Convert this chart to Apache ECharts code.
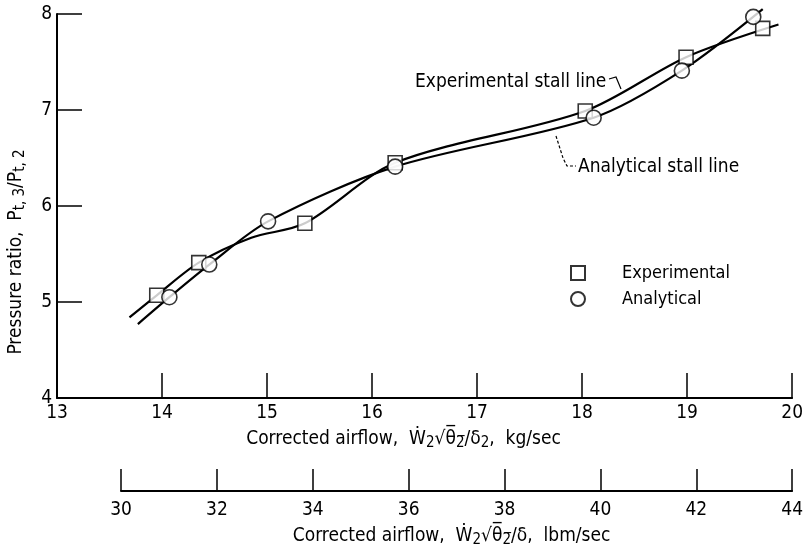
<!DOCTYPE html>
<html>
<head>
<meta charset="utf-8">
<script src="https://cdn.jsdelivr.net/npm/echarts@6/dist/echarts.min.js"></script>
<style>
  html, body { margin: 0; padding: 0; background: #fff; }
  #main { width: 806px; height: 553px; }
</style>
</head>
<body>
<div id="main"></div>
<script type="text/javascript">
	// kg/sec axis and pressure ratio axis
	var kgTicks = [13, 14, 15, 16, 17, 18, 19, 20];
	var lbmTicks = [30, 32, 34, 36, 38, 40, 42, 44];
	var ratioTicks = [4, 5, 6, 7, 8];

	// points
	var expX = [13.95, 14.35, 15.36, 16.22, 18.03, 18.99, 19.72];
	var expY = [5.07, 5.41, 5.82, 6.45, 6.99, 7.55, 7.85];
	var anaX = [14.07, 14.45, 15.01, 16.22, 18.11, 18.95, 19.63];
	var anaY = [5.05, 5.39, 5.84, 6.41, 6.92, 7.41, 7.97];

	// stall lines (faired curves, with their drawn end points)
	var expLineX = [13.69, 13.95, 14.35, 14.85, 15.36, 16.22, 18.03, 18.99, 19.87];
	var expLineY = [4.84, 5.07, 5.41, 5.67, 5.82, 6.45, 6.99, 7.55, 7.89];
	var anaLineX = [13.77, 14.07, 14.45, 15.01, 16.22, 18.11, 18.95, 19.72];
	var anaLineY = [4.77, 5.05, 5.39, 5.84, 6.41, 6.92, 7.41, 8.05];

	var FONT = "'DejaVu Sans Condensed', 'Liberation Sans Narrow', 'Arial Narrow', sans-serif";

	function pairs(xs, ys) {
		var out = [];
		for (var i = 0; i < xs.length; i++) {
			out.push([xs[i], ys[i]]);
		}
		return out;
	}

	var nameRich = {
		n: { fontSize: 19, fontFamily: FONT, color: '#000', lineHeight: 24 },
		s: { fontSize: 15, fontFamily: FONT, color: '#000', lineHeight: 24, verticalAlign: 'bottom', padding: [7, 0, 0, 0] }
	};

	var myChart = echarts.init(document.getElementById('main'));
	myChart.setOption({
		backgroundColor: '#fff',
		animation: false,
		textStyle: { fontFamily: FONT, color: '#000' },
		grid: [
			{ left: 57, right: 10, top: 14, bottom: 155 },
			{ left: 121, right: 11, top: 490, height: 1 }
		],
		legend: {
			orient: 'vertical',
			left: 565,
			top: 259,
			itemGap: 8,
			itemWidth: 14,
			itemHeight: 14,
			data: ['Experimental', 'Analytical'],
			textStyle: { fontFamily: FONT, fontSize: 18, color: '#000', padding: [0, 0, 0, 32] }
		},
		xAxis: [{
			gridIndex: 0,
			type: 'value',
			min: kgTicks[0],
			max: kgTicks[kgTicks.length - 1],
			interval: 1,
			splitLine: { show: false },
			axisLine: { lineStyle: { color: '#000', width: 2 } },
			axisTick: { inside: true, length: 25, lineStyle: { color: '#000', width: 1.5 } },
			axisLabel: { color: '#000', fontSize: 19, margin: 6, fontFamily: FONT },
			name: '{n|Corrected airflow,  \u1E86}{s|2}{n|\u221A}{n|\u03B8\u0305}{s|2\u0305}{n|/\u03B4}{s|2}{n|,  kg/sec}',
			nameLocation: 'middle',
			nameGap: 29,
			nameTextStyle: { rich: nameRich, padding: [0, 42, 0, 0] }
		}, {
			gridIndex: 1,
			type: 'value',
			position: 'bottom',
			min: lbmTicks[0],
			max: lbmTicks[lbmTicks.length - 1],
			interval: 2,
			splitLine: { show: false },
			axisLine: { lineStyle: { color: '#000', width: 2 } },
			axisTick: { inside: true, length: 22, lineStyle: { color: '#000', width: 1.5 } },
			axisLabel: { color: '#000', fontSize: 19, margin: 10, fontFamily: FONT },
			name: '{n|Corrected airflow,  \u1E86}{s|2}{n|\u221A}{n|\u03B8\u0305}{s|2\u0305}{n|/\u03B4,  lbm/sec}',
			nameLocation: 'middle',
			nameGap: 33,
			nameTextStyle: { rich: nameRich, padding: [0, 10, 0, 0] }
		}],
		yAxis: [{
			gridIndex: 0,
			type: 'value',
			min: ratioTicks[0],
			max: ratioTicks[ratioTicks.length - 1],
			interval: 1,
			splitLine: { show: false },
			axisLine: { lineStyle: { color: '#000', width: 2 } },
			axisTick: { inside: true, length: 25, lineStyle: { color: '#000', width: 1.5 } },
			axisLabel: { color: '#000', fontSize: 19, margin: 5, fontFamily: FONT }
		}, {
			gridIndex: 1,
			type: 'value',
			show: false
		}],
		graphic: [{
			type: 'text',
			x: 16,
			y: 252,
			rotation: Math.PI / 2,
			style: {
				text: '{n|Pressure ratio,  P}{s|t, 3}{n|/P}{s|t, 2}',
				align: 'center',
				verticalAlign: 'middle',
				rich: {
					n: { fontSize: 19, fontFamily: FONT, fill: '#000', lineHeight: 24 },
					s: { fontSize: 15, fontFamily: FONT, fill: '#000', lineHeight: 24, verticalAlign: 'bottom', padding: [7, 0, 0, 0] }
				}
			}
		}, {
			// 失速线注释
			type: 'text',
			x: 415,
			y: 82,
			style: { text: 'Experimental stall line', font: '19px ' + FONT, fill: '#000', verticalAlign: 'middle' }
		}, {
			type: 'polyline',
			shape: { points: [[609, 79], [616, 77], [621, 89]] },
			style: { stroke: '#000', lineWidth: 1.2, fill: null }
		}, {
			type: 'text',
			x: 578,
			y: 167,
			style: { text: 'Analytical stall line', font: '19px ' + FONT, fill: '#000', verticalAlign: 'middle' }
		}, {
			type: 'polyline',
			shape: { points: [[556, 136], [563, 158], [567, 166], [576, 166]] },
			style: { stroke: '#000', lineWidth: 1.2, fill: null, lineDash: [3, 2] }
		}],
		series: [{
			name: 'Experimental stall line',
			type: 'line',
			xAxisIndex: 0,
			yAxisIndex: 0,
			data: pairs(expLineX, expLineY),
			smooth: 0.3,
			symbol: 'none',
			clip: false,
			lineStyle: { color: '#000', width: 2.2 },
			z: 2
		}, {
			name: 'Analytical stall line',
			type: 'line',
			xAxisIndex: 0,
			yAxisIndex: 0,
			data: pairs(anaLineX, anaLineY),
			smooth: 0.3,
			symbol: 'none',
			clip: false,
			lineStyle: { color: '#000', width: 2.2 },
			z: 2
		}, {
			name: 'Experimental',
			type: 'scatter',
			xAxisIndex: 0,
			yAxisIndex: 0,
			data: pairs(expX, expY),
			symbol: 'rect',
			symbolSize: 14,
			clip: false,
			itemStyle: { color: '#fff', borderColor: '#000', borderWidth: 1.6 },
			z: 3
		}, {
			name: 'Analytical',
			type: 'scatter',
			xAxisIndex: 0,
			yAxisIndex: 0,
			data: pairs(anaX, anaY),
			symbol: 'circle',
			symbolSize: 15,
			clip: false,
			itemStyle: { color: '#fff', borderColor: '#000', borderWidth: 1.6 },
			z: 3
		}]
	});
	window.onresize = myChart.resize;
</script>
</body>
</html>
